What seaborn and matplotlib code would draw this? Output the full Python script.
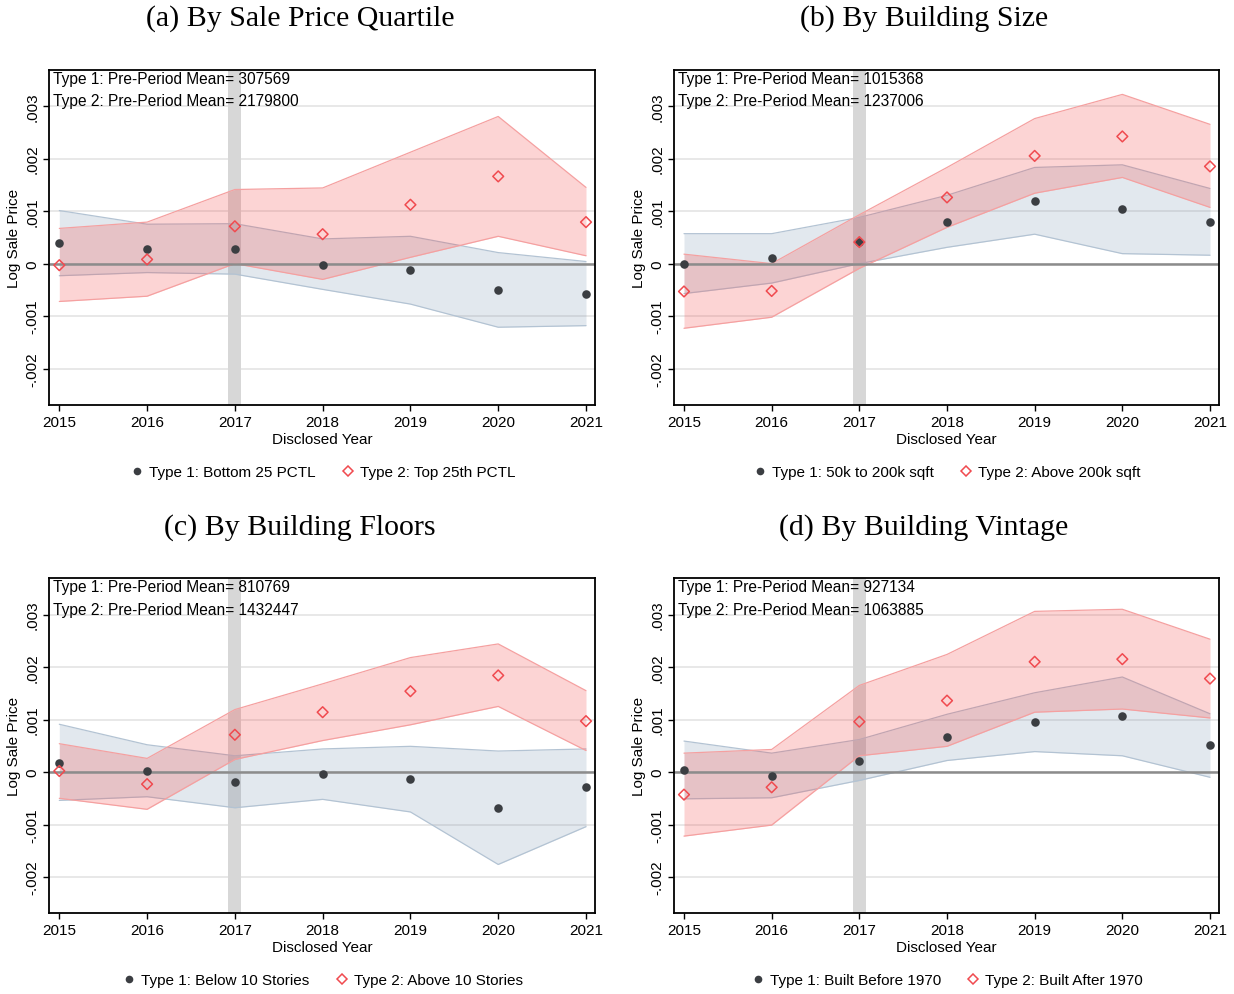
import numpy as np
import pandas as pd
import matplotlib
matplotlib.use("Agg")
import matplotlib.pyplot as plt
import seaborn as sns
from matplotlib.lines import Line2D

years = [2015, 2016, 2017, 2018, 2019, 2020, 2021]

# (a) By Sale Price Quartile
a_t1 = [0.00039, 0.00028, 0.00028, -0.00003, -0.00013, -0.00050, -0.00058]
a_t1_hi = [0.00101, 0.00075, 0.00076, 0.00047, 0.00052, 0.00021, 0.00004]
a_t1_lo = [-0.00023, -0.00017, -0.00020, -0.00049, -0.00077, -0.00121, -0.00118]
a_t2 = [-0.00003, 0.00008, 0.00071, 0.00056, 0.00112, 0.00166, 0.00079]
a_t2_hi = [0.00067, 0.00079, 0.00141, 0.00144, 0.00212, 0.00280, 0.00145]
a_t2_lo = [-0.00072, -0.00062, 0.00000, -0.00030, 0.00012, 0.00052, 0.00015]

# (b) By Building Size
b_t1 = [0.00000, 0.00010, 0.00042, 0.00080, 0.00119, 0.00103, 0.00079]
b_t1_hi = [0.00057, 0.00057, 0.00088, 0.00130, 0.00183, 0.00188, 0.00143]
b_t1_lo = [-0.00057, -0.00037, 0.00000, 0.00031, 0.00056, 0.00019, 0.00016]
b_t2 = [-0.00053, -0.00052, 0.00041, 0.00126, 0.00205, 0.00242, 0.00185]
b_t2_hi = [0.00018, 0.00000, 0.00093, 0.00183, 0.00276, 0.00322, 0.00265]
b_t2_lo = [-0.00123, -0.00102, -0.00009, 0.00069, 0.00134, 0.00164, 0.00107]

# (c) By Building Floors
c_t1 = [0.00018, 0.00002, -0.00018, -0.00004, -0.00013, -0.00068, -0.00029]
c_t1_hi = [0.00091, 0.00052, 0.00031, 0.00044, 0.00049, 0.00040, 0.00044]
c_t1_lo = [-0.00054, -0.00047, -0.00068, -0.00052, -0.00076, -0.00176, -0.00104]
c_t2 = [0.00002, -0.00023, 0.00071, 0.00114, 0.00154, 0.00184, 0.00097]
c_t2_hi = [0.00054, 0.00026, 0.00119, 0.00168, 0.00218, 0.00244, 0.00155]
c_t2_lo = [-0.00050, -0.00071, 0.00024, 0.00060, 0.00090, 0.00125, 0.00041]

# (d) By Building Vintage
d_t1 = [0.00004, -0.00007, 0.00022, 0.00066, 0.00095, 0.00106, 0.00051]
d_t1_hi = [0.00059, 0.00036, 0.00062, 0.00110, 0.00151, 0.00181, 0.00111]
d_t1_lo = [-0.00051, -0.00049, -0.00016, 0.00022, 0.00039, 0.00031, -0.00010]
d_t2 = [-0.00043, -0.00029, 0.00096, 0.00136, 0.00210, 0.00215, 0.00178]
d_t2_hi = [0.00036, 0.00043, 0.00165, 0.00224, 0.00306, 0.00310, 0.00253]
d_t2_lo = [-0.00122, -0.00101, 0.00031, 0.00049, 0.00114, 0.00120, 0.00103]

titles = ["(a) By Sale Price Quartile", "(b) By Building Size",
          "(c) By Building Floors", "(d) By Building Vintage"]
means_t1 = ["307569", "1015368", "810769", "927134"]
means_t2 = ["2179800", "1237006", "1432447", "1063885"]
legend_t1 = ["Type 1: Bottom 25 PCTL", "Type 1: 50k to 200k sqft",
             "Type 1: Below 10 Stories", "Type 1: Built Before 1970"]
legend_t2 = ["Type 2: Top 25th PCTL", "Type 2: Above 200k sqft",
             "Type 2: Above 10 Stories", "Type 2: Built After 1970"]

yticks = [-0.002, -0.001, 0, 0.001, 0.002, 0.003]
ytick_labels = ["-.002", "-.001", "0", ".001", ".002", ".003"]

panels = [
    (a_t1, a_t1_lo, a_t1_hi, a_t2, a_t2_lo, a_t2_hi),
    (b_t1, b_t1_lo, b_t1_hi, b_t2, b_t2_lo, b_t2_hi),
    (c_t1, c_t1_lo, c_t1_hi, c_t2, c_t2_lo, c_t2_hi),
    (d_t1, d_t1_lo, d_t1_hi, d_t2, d_t2_lo, d_t2_hi),
]

sns.set_style("white")
plt.rcParams["font.family"] = ["Liberation Sans", "DejaVu Sans"]
plt.rcParams["text.color"] = "black"
plt.rcParams["axes.labelcolor"] = "black"
plt.rcParams["xtick.color"] = "black"
plt.rcParams["ytick.color"] = "black"

W, H = 1234, 995
fig = plt.figure(figsize=(W / 100, H / 100), dpi=100)

dark = "#3b3e42"
red = "#f04a4f"
blue_face = (0.39, 0.51, 0.63)
blue_edge = "#b3c3d3"
red_face = "#f53c3c"
red_edge = "#f5a0a0"

# axes pixel boxes: left, right, top, bottom
boxes = [(49.3, 595.3, 70.7, 406.0), (674.0, 1219.3, 70.7, 406.0),
         (49.3, 595.3, 579.3, 914.3), (674.0, 1219.3, 579.3, 914.3)]
title_pos = [(300, 19), (924, 19), (300, 528), (924, 528)]

for i, (t1, t1lo, t1hi, t2, t2lo, t2hi) in enumerate(panels):
    l, r, t, b = boxes[i]
    ax = fig.add_axes([l / W, 1 - b / H, (r - l) / W, (b - t) / H])
    ax.set_xlim(2014.886, 2021.106)
    ax.set_ylim(-0.00269, 0.00369)
    ax.set_yticks(yticks)
    ax.set_yticklabels(ytick_labels)
    ax.set_xticks(years)
    ax.set_xticklabels([str(y) for y in years])
    ax.grid(axis="y", color="#e2e2e2", lw=1.1, zorder=0)
    ax.set_axisbelow(True)
    ax.axvspan(2016.925, 2017.075, color="#d7d7d7", lw=0, zorder=0.6)

    ax.fill_between(years, t1lo, t1hi, color=blue_face, alpha=0.18, lw=0, zorder=1)
    ax.plot(years, t1lo, color=blue_edge, lw=0.9, zorder=1.1)
    ax.plot(years, t1hi, color=blue_edge, lw=0.9, zorder=1.1)
    ax.fill_between(years, t2lo, t2hi, color=red_face, alpha=0.22, lw=0, zorder=1.2)
    ax.plot(years, t2lo, color=red_edge, lw=0.9, zorder=1.3)
    ax.plot(years, t2hi, color=red_edge, lw=0.9, zorder=1.3)

    ax.axhline(0, color="#8c8c8c", lw=1.8, zorder=2)

    df1 = pd.DataFrame({"year": years, "coef": t1})
    df2 = pd.DataFrame({"year": years, "coef": t2})
    sns.scatterplot(data=df1, x="year", y="coef", ax=ax, color=dark, marker="o",
                    s=38, linewidth=0, zorder=5, legend=False)
    sns.scatterplot(data=df2, x="year", y="coef", ax=ax, color=red, marker="D",
                    s=30, linewidth=1.1, zorder=5, legend=False)
    coll = ax.collections[-1]
    coll.set_facecolor("none")
    coll.set_edgecolor(red)

    ax.set_xlabel("Disclosed Year", fontsize=11, labelpad=2)
    ax.set_ylabel("Log Sale Price", fontsize=11, labelpad=3)
    ax.tick_params(axis="both", which="both", direction="out", length=4,
                   width=1, color="black", labelsize=11, pad=3,
                   left=True, bottom=True)
    for lab in ax.get_yticklabels():
        lab.set_rotation(90)
        lab.set_va("center")
    for s in ax.spines.values():
        s.set_color("black")
        s.set_linewidth(1.3)

    ax.text(0.007, 0.975, "Type 1: Pre-Period Mean= " + means_t1[i],
            transform=ax.transAxes, fontsize=11.2, ha="left", va="center", zorder=6)
    ax.text(0.007, 0.907, "Type 2: Pre-Period Mean= " + means_t2[i],
            transform=ax.transAxes, fontsize=11.2, ha="left", va="center", zorder=6)

    handles = [Line2D([], [], marker="o", ls="", color=dark, markersize=5.5, markeredgewidth=0),
               Line2D([], [], marker="D", ls="", markerfacecolor="none",
                      markeredgecolor=red, markersize=5, markeredgewidth=1.1)]
    ax.legend(handles, [legend_t1[i], legend_t2[i]], loc="center",
              bbox_to_anchor=(0.5, -0.2), ncol=2, frameon=False, fontsize=11,
              handletextpad=0.3, columnspacing=1.6, handlelength=1.0)

    tx, ty = title_pos[i]
    fig.text(tx / W, 1 - ty / H, titles[i], fontsize=21.5, ha="center", va="center",
             family=["Liberation Serif", "DejaVu Serif"])

fig.savefig("out.png", dpi=100)
